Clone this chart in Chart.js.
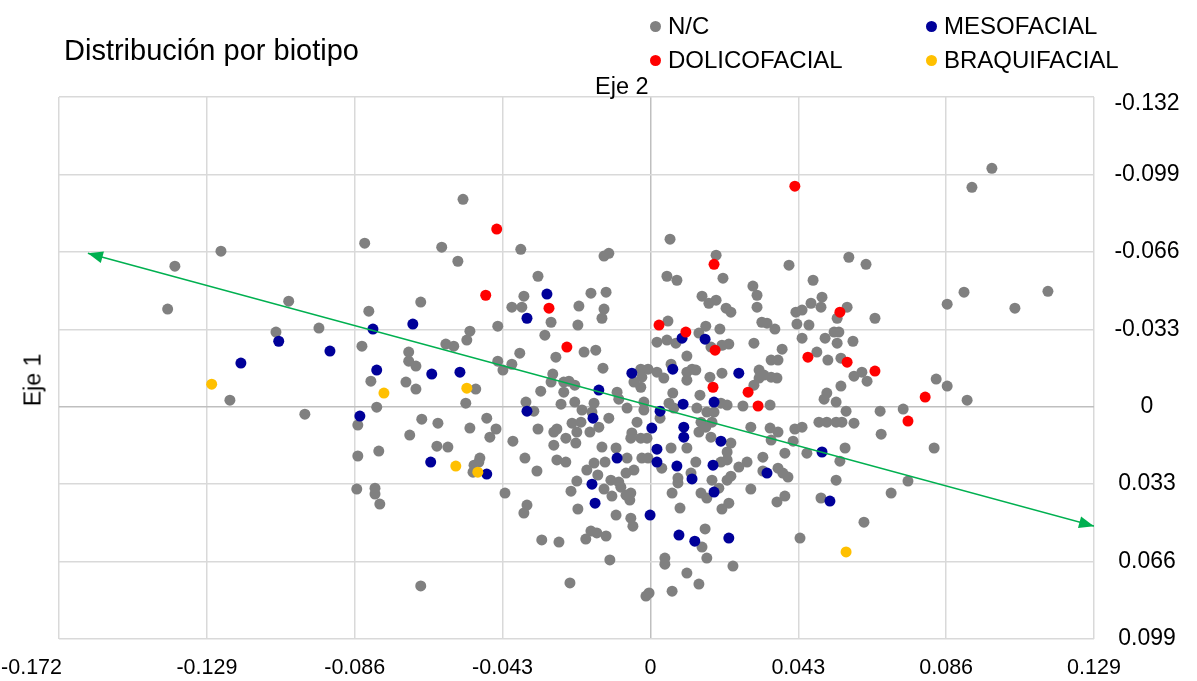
<!DOCTYPE html>
<html>
<head>
<meta charset="utf-8">
<script src="https://cdn.jsdelivr.net/npm/chart.js@4.4.1/dist/chart.umd.min.js"></script>
<style>
  html, body { margin: 0; padding: 0; background: #fff; }
  #wrap { position: relative; width: 1197px; height: 681px; font-family: Arial, "Liberation Sans", sans-serif; color: #000; }
  #chart { position: absolute; left: 0; top: 0; }
  #title { position: absolute; left: 64px; top: 34px; font-size: 29px; white-space: nowrap; }
  #legend { position: absolute; left: 650px; top: 9px; display: grid; grid-template-columns: 276px auto; grid-auto-rows: 34px; font-size: 24px; }
  #legend .item { display: flex; align-items: center; white-space: nowrap; }
  #legend .dot { width: 11px; height: 11px; border-radius: 50%; margin-right: 7px; }
  #eje2 { position: absolute; left: 595px; top: 73px; font-size: 23.5px; }
  #eje1 { position: absolute; left: 33px; top: 380px; font-size: 23px; transform: translate(-50%, -50%) rotate(-90deg); white-space: nowrap; }
</style>
</head>
<body>
<div id="wrap">
  <canvas id="chart" width="1197" height="681"></canvas>
  <div id="title">Distribución por biotipo</div>
  <div id="legend"></div>
  <div id="eje2">Eje 2</div>
  <div id="eje1">Eje 1</div>
</div>
<script>
// axis ticks
const xTicks = [-0.172, -0.129, -0.086, -0.043, 0, 0.043, 0.086, 0.129];
const yTicks = [-0.132, -0.099, -0.066, -0.033, 0, 0.033, 0.066, 0.099];

// series: [eje 2, eje 1]
const nc = [
  [-0.1383,-0.0599],[-0.1249,-0.0663],[-0.1404,-0.0416],[-0.1052,-0.0450],[-0.1089,-0.0318],[-0.0964,-0.0335],
  [-0.1223,-0.0028],[-0.1005,0.0032],[-0.0545,-0.0884],[-0.0831,-0.0697],[-0.0607,-0.0680],[-0.0560,-0.0620],
  [-0.0377,-0.0671],[-0.0327,-0.0556],[-0.0135,-0.0642],[-0.0121,-0.0654],[0.0057,-0.0714],[0.0191,-0.0646],
  [0.0403,-0.0603],[0.0048,-0.0556],[0.0077,-0.0539],[0.0211,-0.0548],[0.0473,-0.0539],[0.0993,-0.1016],
  [0.0935,-0.0935],[0.0577,-0.0637],[0.0627,-0.0607],[-0.0819,-0.0407],[-0.0839,-0.0258],[-0.0668,-0.0446],
  [-0.0813,-0.0109],[-0.0796,0.0002],[-0.0851,0.0078],[-0.0851,0.0210],[-0.0790,0.0189],[-0.0703,-0.0233],
  [-0.0703,-0.0194],[-0.0682,-0.0173],[-0.0711,-0.0105],[-0.0682,-0.0075],[-0.0508,-0.0075],[-0.0537,-0.0015],
  [-0.0595,-0.0267],[-0.0572,-0.0258],[-0.0534,-0.0284],[-0.0525,-0.0322],[-0.0665,0.0053],[-0.0618,0.0070],
  [-0.0700,0.0121],[-0.0621,0.0168],[-0.0589,0.0172],[-0.0525,0.0091],[-0.0476,0.0049],[-0.0449,0.0095],
  [-0.0467,0.0130],[-0.0496,0.0219],[-0.0400,0.0147],[-0.0365,0.0219],[-0.0444,-0.0343],[-0.0403,-0.0424],
  [-0.0374,-0.0424],[-0.0368,-0.0471],[-0.0289,-0.0360],[-0.0307,-0.0305],[-0.0208,-0.0429],[-0.0211,-0.0348],
  [-0.0275,-0.0211],[-0.0380,-0.0228],[-0.0444,-0.0194],[-0.0429,-0.0156],[-0.0403,-0.0181],[-0.0284,-0.0139],
  [-0.0289,-0.0105],[-0.0252,-0.0105],[-0.0237,-0.0109],[-0.0220,-0.0092],[-0.0252,-0.0062],[-0.0319,-0.0066],
  [-0.0260,-0.0011],[-0.0220,-0.0020],[-0.0362,-0.0020],[-0.0339,0.0019],[-0.0327,0.0095],[-0.0281,0.0108],
  [-0.0272,0.0095],[-0.0228,0.0070],[-0.0246,0.0134],[-0.0281,0.0164],[-0.0217,0.0155],[-0.0272,0.0227],
  [-0.0246,0.0236],[-0.0214,0.0108],[0.0298,-0.0514],[0.0310,-0.0475],[0.0310,-0.0424],[0.0499,-0.0467],
  [0.0496,-0.0424],[0.0467,-0.0441],[0.0441,-0.0412],[0.0423,-0.0403],[0.0426,-0.0352],[0.0461,-0.0348],
  [0.0441,-0.0292],[0.0543,-0.0377],[0.0508,-0.0292],[0.0534,-0.0318],[0.0484,-0.0233],[0.0516,-0.0199],
  [0.0543,-0.0271],[0.0513,-0.0058],[0.0505,-0.0032],[0.0490,0.0066],[0.0513,0.0066],[0.0540,0.0066],
  [0.0420,0.0095],[0.0441,0.0087],[0.0415,0.0147],[0.0391,0.0198],[0.0455,0.0198],[0.0348,0.0091],
  [0.0371,0.0108],[0.0292,0.0087],[0.0351,0.0142],[0.0327,0.0215],[-0.0173,-0.0484],[-0.0129,-0.0488],
  [-0.0135,-0.0416],[-0.0141,-0.0377],[-0.0193,-0.0233],[-0.0159,-0.0241],[-0.0138,-0.0164],[-0.0028,-0.0160],
  [-0.0007,-0.0160],[-0.0048,-0.0105],[-0.0025,-0.0126],[-0.0028,-0.0083],[-0.0097,-0.0062],[-0.0092,-0.0032],
  [-0.0164,-0.0015],[-0.0199,0.0014],[-0.0170,0.0023],[-0.0202,0.0066],[-0.0176,0.0108],[-0.0150,0.0087],
  [-0.0121,0.0049],[-0.0068,0.0006],[-0.0019,-0.0020],[-0.0019,0.0014],[-0.0039,0.0066],[-0.0054,0.0112],
  [-0.0028,0.0134],[-0.0010,0.0134],[-0.0057,0.0134],[-0.0141,0.0172],[-0.0100,0.0176],[-0.0068,0.0219],
  [-0.0132,0.0236],[-0.0025,0.0219],[-0.0007,0.0219],[0.0060,0.0176],[0.0051,-0.0365],[0.0019,-0.0275],
  [0.0048,-0.0284],[0.0074,-0.0271],[0.0106,-0.0216],[0.0161,-0.0343],[0.0150,-0.0471],[0.0170,-0.0441],
  [0.0191,-0.0454],[0.0220,-0.0420],[0.0234,-0.0403],[0.0141,-0.0314],[0.0202,-0.0331],[0.0176,-0.0254],
  [0.0208,-0.0262],[0.0228,-0.0267],[0.0301,-0.0271],[0.0324,-0.0360],[0.0339,-0.0356],[0.0362,-0.0331],
  [0.0383,-0.0245],[0.0351,-0.0199],[0.0371,-0.0199],[0.0019,-0.0147],[0.0039,-0.0122],[0.0060,-0.0181],
  [0.0106,-0.0147],[0.0106,-0.0113],[0.0121,-0.0160],[0.0132,-0.0156],[0.0173,-0.0126],[0.0208,-0.0143],
  [0.0316,-0.0156],[0.0330,-0.0135],[0.0351,-0.0126],[0.0368,-0.0122],[0.0316,-0.0122],[0.0301,-0.0092],
  [0.0348,-0.0007],[0.0269,-0.0003],[0.0223,-0.0007],[0.0205,-0.0015],[0.0144,-0.0049],[0.0065,-0.0058],
  [0.0054,-0.0015],[0.0068,0.0006],[0.0135,0.0006],[0.0164,0.0023],[0.0185,0.0023],[0.0028,0.0049],
  [0.0147,0.0066],[0.0161,0.0087],[0.0179,0.0066],[0.0141,0.0108],[0.0176,0.0130],[0.0234,0.0155],
  [0.0106,0.0176],[0.0132,0.0236],[0.0223,0.0193],[0.0223,0.0227],[0.0281,0.0236],[0.0205,0.0236],
  [0.0572,-0.0424],[0.0653,-0.0377],[0.0548,-0.0318],[0.0589,-0.0279],[0.0554,-0.0207],[0.0592,-0.0130],
  [0.0615,-0.0147],[0.0630,-0.0109],[0.0554,-0.0088],[0.0540,-0.0020],[0.0569,0.0019],[0.0557,0.0066],
  [0.0592,0.0070],[0.0668,0.0019],[0.0735,0.0010],[0.0831,-0.0118],[0.0863,-0.0088],[0.0921,-0.0028],
  [0.0671,0.0117],[0.0566,0.0176],[0.0825,0.0176],[0.0551,0.0232],[0.0863,-0.0437],[0.0912,-0.0488],
  [0.1060,-0.0420],[0.1156,-0.0492],[0.0540,0.0313],[0.0749,0.0317],[0.0700,0.0368],[0.0621,0.0492],
  [-0.0214,0.0317],[-0.0185,0.0270],[-0.0164,0.0240],[-0.0153,0.0291],[-0.0115,0.0313],[-0.0092,0.0321],
  [-0.0086,0.0343],[-0.0071,0.0283],[-0.0048,0.0270],[-0.0135,0.0351],[-0.0112,0.0381],[-0.0071,0.0377],
  [-0.0057,0.0368],[-0.0060,0.0398],[-0.0211,0.0436],[-0.0100,0.0462],[-0.0057,0.0475],[-0.0051,0.0509],
  [-0.0173,0.0530],[-0.0156,0.0538],[-0.0129,0.0551],[-0.0188,0.0564],[-0.0118,0.0653],[-0.0013,0.0807],
  [-0.0004,0.0794],[0.0042,0.0645],[0.0042,0.0671],[0.0063,0.0786],[0.0106,0.0709],[0.0141,0.0756],
  [0.0086,0.0432],[0.0063,0.0368],[0.0080,0.0304],[0.0080,0.0325],[0.0118,0.0283],[0.0033,0.0262],
  [0.0147,0.0368],[0.0164,0.0389],[0.0179,0.0313],[0.0199,0.0347],[0.0208,0.0436],[0.0228,0.0411],
  [0.0223,0.0313],[0.0234,0.0296],[0.0257,0.0257],[0.0292,0.0351],[0.0159,0.0521],[0.0150,0.0598],
  [0.0164,0.0645],[0.0240,0.0679],[0.0327,0.0274],[0.0371,0.0262],[0.0385,0.0283],[0.0400,0.0300],
  [0.0368,0.0406],[0.0391,0.0381],[0.0435,0.0560],[0.0496,0.0389],[-0.0513,0.0249],[-0.0499,0.0236],
  [-0.0516,0.0279],[-0.0854,0.0351],[-0.0801,0.0347],[-0.0801,0.0372],[-0.0787,0.0415],[-0.0423,0.0368],
  [-0.0359,0.0419],[-0.0368,0.0453],[-0.0316,0.0568],[-0.0266,0.0577],[-0.0668,0.0764],[-0.0234,0.0751],
  [-0.0330,0.0274],[-0.0231,0.0360]
];

const meso = [
  [-0.1191,-0.0186],[-0.1081,-0.0279],[-0.0932,-0.0237],[-0.0807,-0.0331],[-0.0691,-0.0352],[-0.0796,-0.0156],
  [-0.0636,-0.0139],[-0.0554,-0.0147],[-0.0845,0.0040],[-0.0639,0.0236],[-0.0476,0.0287],[-0.0301,-0.0480],
  [-0.0359,-0.0377],[-0.0359,0.0019],[-0.0150,-0.0071],[-0.0167,0.0049],[-0.0054,-0.0143],[0.0004,0.0091],
  [-0.0097,0.0219],[0.0019,0.0181],[0.0019,0.0236],[0.0028,0.0019],[0.0065,-0.0160],[0.0092,-0.0292],
  [0.0159,-0.0288],[0.0257,-0.0143],[0.0095,-0.0011],[0.0185,-0.0020],[0.0097,0.0087],[0.0097,0.0130],
  [0.0205,0.0147],[0.0077,0.0253],[0.0182,0.0249],[0.0121,0.0308],[0.0185,0.0364],[0.0339,0.0283],
  [-0.0170,0.0330],[-0.0161,0.0411],[-0.0001,0.0462],[0.0083,0.0547],[0.0129,0.0573],[0.0228,0.0560],
  [0.0499,0.0193],[0.0522,0.0402]
];

const dolico = [
  [-0.0447,-0.0757],[-0.0479,-0.0475],[-0.0295,-0.0420],[-0.0243,-0.0254],[0.0420,-0.0940],[0.0185,-0.0607],
  [0.0025,-0.0348],[0.0103,-0.0318],[0.0188,-0.0241],[0.0182,-0.0083],[0.0284,-0.0062],[0.0313,-0.0003],
  [0.0458,-0.0211],[0.0551,-0.0403],[0.0572,-0.0190],[0.0653,-0.0152],[0.0799,-0.0041],[0.0749,0.0061]
];

const braqui = [
  [-0.1276,-0.0096],[-0.0775,-0.0058],[-0.0534,-0.0079],[-0.0566,0.0253],[-0.0502,0.0279],[0.0569,0.0619]
];

// principal direction, drawn as a double-headed arrow
const arrowLine = [[-0.1636,-0.0654],[0.1290,0.0509]];

const seriesNames = ['N/C', 'MESOFACIAL', 'DOLICOFACIAL', 'BRAQUIFACIAL'];
const seriesColors = ['#808080', '#000099', '#ff0000', '#ffc000'];
const seriesData = [nc, meso, dolico, braqui];

const toXY = arr => arr.map(p => ({ x: p[0], y: p[1] }));
const fmt = v => (v === 0 ? '0' : v.toFixed(3));
const fontFamily = 'Arial, "Liberation Sans", sans-serif';

// legend in two columns
const legendEl = document.getElementById('legend');
seriesNames.forEach((name, i) => {
  const item = document.createElement('div');
  item.className = 'item';
  item.innerHTML = '<span class="dot" style="background:' + seriesColors[i] + '"></span>' + name;
  legendEl.appendChild(item);
});

const datasets = seriesData.map((d, i) => ({
  label: seriesNames[i],
  data: toXY(d),
  backgroundColor: seriesColors[i],
  borderWidth: 0,
  pointRadius: 5.5,
  order: 4 - i
}));

datasets.push({
  label: 'eje',
  type: 'scatter',
  data: toXY(arrowLine),
  showLine: true,
  borderColor: '#00b050',
  borderWidth: 1.5,
  pointRadius: 0,
  order: 0
});

const arrowHeads = {
  id: 'arrowHeads',
  afterDatasetsDraw(chart) {
    const meta = chart.getDatasetMeta(datasets.length - 1);
    const [a, b] = meta.data;
    const ctx = chart.ctx;
    const head = (tip, from) => {
      const ang = Math.atan2(tip.y - from.y, tip.x - from.x);
      const len = 15, half = 6;
      ctx.save();
      ctx.translate(tip.x, tip.y);
      ctx.rotate(ang);
      ctx.beginPath();
      ctx.moveTo(0, 0);
      ctx.lineTo(-len, -half);
      ctx.lineTo(-len, half);
      ctx.closePath();
      ctx.fillStyle = '#00b050';
      ctx.fill();
      ctx.restore();
    };
    head(a, b);
    head(b, a);
  }
};

// tick labels: kept inside the chart at the outer ends
const tickLabels = {
  id: 'tickLabels',
  afterDraw(chart) {
    const { ctx } = chart;
    const xs = chart.scales.x, ys = chart.scales.y;
    ctx.save();
    ctx.fillStyle = '#000';
    ctx.textBaseline = 'middle';
    ctx.font = '21.5px ' + fontFamily;
    xTicks.forEach((v, i) => {
      const px = xs.getPixelForValue(v);
      ctx.textAlign = i === 0 ? 'right' : 'center';
      ctx.fillText(fmt(v), i === 0 ? px + 3 : px, xs.top + 29);
    });
    ctx.font = '23px ' + fontFamily;
    ctx.textAlign = 'center';
    yTicks.forEach((v, i) => {
      const py = ys.getPixelForValue(v);
      ctx.fillText(fmt(v), ys.left + 53, i === 0 ? py + 7 : py);
    });
    ctx.restore();
  }
};

const gridColor = ctx => (ctx.tick && ctx.tick.value === 0 ? '#bfbfbf' : '#d9d9d9');

new Chart(document.getElementById('chart'), {
  type: 'scatter',
  data: { datasets },
  options: {
    responsive: false,
    animation: false,
    devicePixelRatio: 1,
    layout: { padding: { left: 59, top: 97, right: 0, bottom: 0 } },
    plugins: { legend: { display: false }, tooltip: { enabled: false } },
    scales: {
      x: {
        type: 'linear',
        position: 'bottom',
        min: xTicks[0],
        max: xTicks[xTicks.length - 1],
        afterBuildTicks: s => { s.ticks = xTicks.map(v => ({ value: v })); },
        afterFit: s => { s.height = 42; },
        ticks: { display: false },
        grid: { color: gridColor, lineWidth: 1.5, drawTicks: false },
        border: { display: false }
      },
      y: {
        type: 'linear',
        position: 'right',
        reverse: true,
        min: yTicks[0],
        max: yTicks[yTicks.length - 1],
        afterBuildTicks: s => { s.ticks = yTicks.map(v => ({ value: v })); },
        afterFit: s => { s.width = 103; },
        ticks: { display: false },
        grid: { color: gridColor, lineWidth: 1.5, drawTicks: false },
        border: { display: false }
      }
    }
  },
  plugins: [arrowHeads, tickLabels]
});
</script>
</body>
</html>
